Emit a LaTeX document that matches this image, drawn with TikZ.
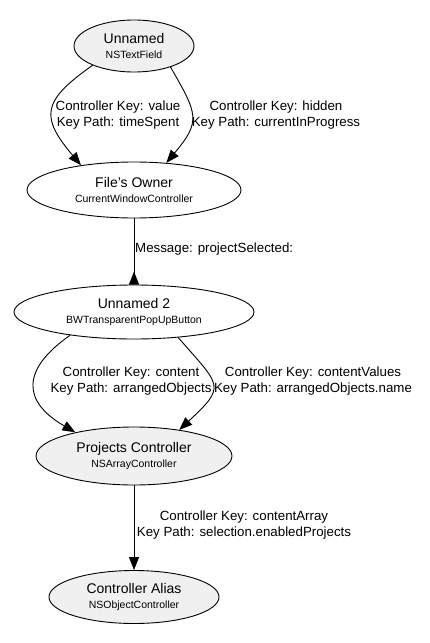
\documentclass[tikz,border=0pt]{standalone}
\usepackage{fontspec}
\setmainfont{Liberation Sans}
\usetikzlibrary{shapes.geometric, arrows.meta}

\definecolor{objfill}{gray}{0.94}

\tikzset{
    obj/.style={ellipse, draw, line width=0.9pt, inner sep=0pt, align=center,
        font=\fontsize{14}{15}\selectfont},
    objgray/.style={obj, fill=objfill},
    link/.style={line width=0.9pt, -{Triangle[length=13pt, width=10pt]}},
    lbl/.style={align=center, inner sep=0pt, font=\fontsize{13.3}{16}\selectfont}
}
\newcommand{\cls}[1]{{\fontsize{10.5}{15}\selectfont #1}}

\begin{document}
\begin{tikzpicture}[x=1pt, y=1pt]
        \useasboundingbox (0, 0) rectangle (430, -643);
        % objects
        \node[objgray, minimum width=120, minimum height=52] (u1) at (134, -46) {Unnamed\\\cls{NSTextField}};
        \node[obj, minimum width=214, minimum height=56] (fo) at (134, -190) {File’s Owner\\\cls{CurrentWindowController}};
        \node[obj, minimum width=240, minimum height=54] (u2) at (134, -312) {Unnamed 2\\\cls{BWTransparentPopUpButton}};
        \node[objgray, minimum width=196, minimum height=58] (pc) at (134, -456) {Projects Controller\\\cls{NSArrayController}};
        \node[objgray, minimum width=170, minimum height=53] (ca) at (134, -597) {Controller Alias\\\cls{NSObjectController}};

        % bindings
        \draw[link] (u1.205) to[out=215, in=130, looseness=1.6] (fo.155);
        \draw[link] (u1.330) to[out=300, in=50, looseness=1.45] (fo.40);
        \draw[line width=0.9pt, -{Triangle[length=13pt, width=10pt, reversed]}] (fo) -- (u2);
        \draw[link] (u2.200) to[out=215, in=150, looseness=1.6] (pc.158);
        \draw[link] (u2.330) to[out=311, in=43, looseness=1.8] (pc.30);
        \draw[link] (pc) -- (ca);

        % labels
        \node[lbl] (l1) at (118, -115) {Controller Key: value\\Key Path: timeSpent};
        \node[lbl] (l2) at (276, -115) {Controller Key: hidden\\Key Path: currentInProgress};
        \node[lbl, anchor=west] (l3) at (135, -249) {Message: projectSelected:};
        \node[lbl] (l4) at (131, -381) {Controller Key: content\\Key Path: arrangedObjects};
        \node[lbl] (l5) at (313, -381) {Controller Key: contentValues\\Key Path: arrangedObjects.name};
        \node[lbl] (l6) at (244, -525) {Controller Key: contentArray\\Key Path: selection.enabledProjects};
    \end{tikzpicture}
\end{document}
